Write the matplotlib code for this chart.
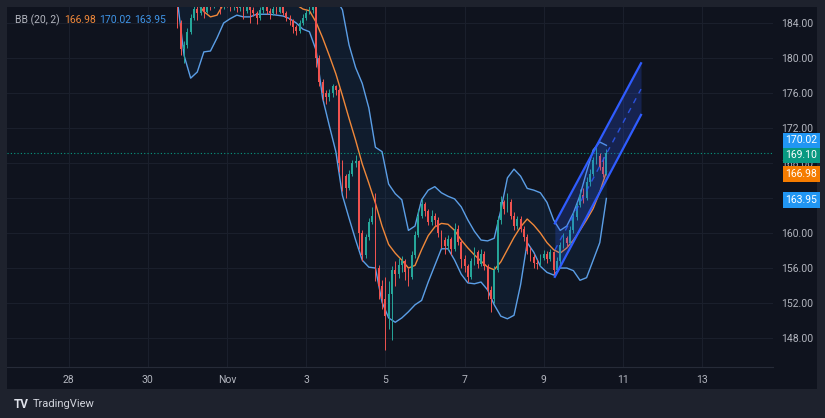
import matplotlib

matplotlib.use("Agg")
import matplotlib.dates as mdates
import matplotlib.pyplot as plt
import numpy as np
import pandas as pd
from matplotlib.patches import Rectangle
from matplotlib.transforms import blended_transform_factory

plt.rcParams["font.family"] = ["Roboto", "DejaVu Sans"]

# 2-hour candles, open of each bar is the previous close
first_open = 188.0
closes = [
    184.0, 181.0, 181.5, 183.0, 184.6, 185.6, 185.2, 185.8, 185.3, 186.2,
    185.9, 186.5, 186.3, 185.9, 186.4, 186.2, 185.8, 186.1, 185.7, 186.0,
    185.4, 185.9, 185.5, 185.2, 184.6, 185.5, 185.9, 185.4, 185.1, 185.6,
    185.3, 185.8, 185.2, 184.6, 184.3, 183.6, 183.1, 184.0, 184.6, 185.2,
    185.5, 185.8, 180.0, 177.3, 176.0, 175.5, 176.0, 176.8, 176.3, 168.0,
    166.5, 165.2, 166.8, 168.0, 168.2, 160.0, 157.5, 159.5, 161.3, 162.0,
    156.0, 154.0, 152.5, 150.5, 153.0, 155.8, 155.3, 156.3, 156.8, 155.6,
    155.0, 157.5, 159.8, 162.0, 163.3, 162.5, 161.3, 162.0, 161.5, 160.0,
    159.2, 158.5, 159.3, 158.2, 160.5, 159.0, 157.0, 156.2, 155.0, 156.8,
    157.8, 156.5, 157.6, 156.2, 153.5, 152.5, 155.8, 161.5, 163.5, 162.8,
    163.6, 162.0, 160.8, 161.6, 160.5, 159.6, 158.0, 157.3, 156.6, 156.5,
    157.2, 157.6, 157.0, 157.8, 155.8, 156.8, 158.6, 159.4, 158.9, 160.3,
    161.8, 163.2, 164.3, 164.0, 165.8, 166.8, 168.3, 168.8, 167.6, 166.8,
    169.1,
]
highs = [
    188.6, 184.3, 182.0, 183.4, 185.0, 186.0, 186.0, 186.2, 186.1, 186.6,
    186.5, 186.9, 186.8, 186.4, 186.7, 186.6, 186.3, 186.4, 186.2, 186.3,
    186.1, 186.2, 186.1, 185.8, 185.4, 185.8, 186.3, 186.1, 185.7, 185.9,
    185.9, 186.1, 185.9, 185.4, 184.9, 184.5, 183.8, 184.3, 185.0, 185.5,
    185.9, 186.1, 185.9, 180.4, 177.6, 176.4, 176.5, 177.0, 176.9, 176.6,
    168.3, 166.8, 167.2, 168.4, 168.9, 168.4, 160.4, 159.9, 161.7, 163.0,
    164.6, 156.4, 154.6, 155.0, 154.5, 156.2, 156.8, 157.2, 157.4, 157.0,
    156.0, 157.9, 160.2, 162.8, 163.9, 163.6, 162.8, 162.6, 162.3, 161.8,
    160.3, 159.6, 159.8, 159.6, 161.2, 160.9, 159.3, 157.5, 156.5, 157.2,
    158.4, 158.1, 158.2, 157.9, 156.5, 154.0, 156.2, 161.9, 164.2, 163.8,
    164.6, 163.9, 162.4, 162.0, 161.9, 160.8, 159.9, 158.4, 157.6, 157.0,
    157.6, 158.1, 157.9, 158.2, 158.0, 157.3, 159.0, 160.0, 159.7, 160.8,
    162.4, 163.6, 165.0, 165.2, 166.4, 167.3, 168.7, 169.8, 169.2, 168.7,
    169.6,
]
lows = [
    183.4, 180.3, 179.4, 181.2, 182.7, 184.3, 184.4, 184.9, 184.6, 185.1,
    185.5, 185.7, 185.9, 185.0, 185.6, 185.8, 185.4, 185.5, 185.3, 185.4,
    184.5, 185.2, 184.0, 184.8, 183.9, 184.4, 185.2, 185.0, 184.5, 184.9,
    185.0, 185.1, 184.9, 184.2, 183.8, 182.9, 182.6, 182.9, 183.8, 184.4,
    185.0, 185.2, 179.0, 176.8, 175.2, 174.8, 175.1, 175.6, 175.8, 167.0,
    164.8, 164.0, 164.9, 166.5, 167.6, 158.2, 156.8, 157.2, 159.2, 161.0,
    154.5, 152.5, 151.3, 146.6, 149.0, 147.8, 154.0, 154.9, 155.5, 154.6,
    154.0, 154.7, 157.2, 159.5, 161.7, 162.0, 160.9, 160.9, 160.8, 159.6,
    158.3, 157.6, 158.1, 157.5, 157.9, 158.6, 156.0, 155.6, 154.4, 154.7,
    156.4, 156.0, 156.2, 155.8, 152.5, 151.0, 152.0, 155.5, 161.0, 162.2,
    162.4, 161.6, 160.3, 160.5, 160.1, 159.1, 157.6, 156.8, 156.0, 155.9,
    156.2, 156.9, 156.6, 156.8, 155.2, 155.5, 156.5, 158.3, 158.4, 158.7,
    160.0, 161.5, 163.0, 163.4, 163.8, 165.4, 166.5, 167.9, 167.2, 166.4,
    166.6,
]

# Bollinger Bands (20, 2), sampled every 4 hours
bb_upper = [
    191.0, 192.0, 192.5, 192.0, 190.0, 188.6, 187.6, 187.8, 188.2, 188.6,
    188.8, 188.9, 188.8, 188.7, 188.5, 188.3, 188.1, 187.9, 187.8, 187.8,
    187.8, 189.0, 188.5, 187.5, 186.8, 185.5, 181.5, 178.9, 177.1, 174.3,
    169.8, 169.3, 165.6, 164.5, 163.8, 160.3, 160.8, 163.8, 164.9, 165.3,
    164.6, 164.2, 163.9, 163.0, 161.5, 160.2, 159.2, 159.1, 159.4, 162.6,
    166.3, 167.3, 166.5, 165.1, 164.9, 164.6, 163.5, 161.5, 160.3, 160.8,
    162.3, 164.3, 167.0, 169.5, 170.4, 170.02,
]
bb_basis = [
    188.5, 187.8, 187.0, 186.3, 185.3, 184.7, 184.9, 186.2, 186.6, 186.9,
    187.0, 187.0, 186.9, 186.8, 186.7, 186.6, 186.5, 186.3, 186.1, 185.6,
    185.4, 184.1, 182.3, 180.3, 178.2, 175.7, 173.1, 170.6, 167.9, 165.7,
    163.4, 160.8, 158.7, 157.7, 156.9, 156.0, 156.3, 158.1, 159.7, 160.7,
    161.1, 161.0, 160.3, 159.2, 158.3, 157.5, 156.8, 156.1, 155.8, 156.7,
    158.1, 159.5, 160.7, 161.6, 160.9, 160.0, 158.9, 158.1, 157.7, 158.3,
    159.2, 160.3, 161.5, 162.8, 164.7, 166.98,
]
bb_lower = [
    186.5, 180.3, 177.7, 178.4, 180.7, 180.8, 182.3, 184.0, 184.5, 184.9,
    184.7, 184.7, 185.0, 185.0, 185.0, 184.9, 184.8, 184.5, 184.0, 183.3,
    183.0, 180.9, 175.4, 172.3, 169.3, 164.3, 161.7, 159.2, 156.9, 156.1,
    156.0, 152.1, 150.3, 149.8, 150.3, 151.0, 151.8, 152.3, 154.4, 156.3,
    158.2, 158.2, 156.9, 155.3, 154.3, 154.2, 154.4, 153.5, 151.8, 150.5,
    150.2, 150.6, 154.1, 158.9, 157.8, 156.2, 155.5, 155.2, 156.0, 156.0,
    155.7, 154.6, 154.9, 156.9, 158.9, 163.95,
]

# parallel channel drawing
channel_times = ["2023-11-09 06:45", "2023-11-11 11:00"]
channel_upper = [161.1, 179.4]
channel_lower = [155.0, 173.5]

last_price = 169.10
date_ticks = ["2023-10-28", "2023-10-30", "2023-11-01", "2023-11-03", "2023-11-05",
              "2023-11-07", "2023-11-09", "2023-11-11", "2023-11-13"]
date_labels = ["28", "30", "Nov", "3", "5", "7", "9", "11", "13"]
price_ticks = [148, 152, 156, 160, 164, 168, 172, 176, 180, 184]
hidden_ticks = [164]  # sits fully under the 163.95 tag

FRAME = "#1e222d"
PANEL = "#0f131e"
GRID = "#1a1f2c"
TEXT = "#b2b5be"
UP = "#26a69a"
DOWN = "#ef5350"
BAND = "#5b9ee6"
BASIS = "#f0883a"
CHANNEL = "#2f5cff"
BLUE_TAG = "#2196f3"
GREEN_TAG = "#089981"
ORANGE_TAG = "#f57c00"

W, H = 825, 418
fig = plt.figure(figsize=(W / 100, H / 100), dpi=100)
fig.patch.set_facecolor(FRAME)
fig.add_artist(Rectangle((7 / W, 1 - 389 / H), 810 / W, 382 / H, transform=fig.transFigure,
                         facecolor=PANEL, edgecolor="none", zorder=-10))

ax = fig.add_axes([7 / W, 1 - 367 / H, 766 / W, 360 / H])
ax.set_facecolor(PANEL)
ax.set_ylim(144.69, 185.83)
ax.set_xlim(pd.Timestamp("2023-10-26 10:40"), pd.Timestamp("2023-11-14 19:00"))

times = pd.date_range("2023-10-30 18:00", periods=len(closes), freq="2h")
band_times = pd.date_range("2023-10-30 18:00", periods=len(bb_basis), freq="4h")
t = mdates.date2num(times)
bt = mdates.date2num(band_times)

# bands
ax.fill_between(bt, bb_lower, bb_upper, color="#2196f3", alpha=0.07, lw=0, zorder=1)
ax.plot(bt, bb_upper, color=BAND, lw=1.0, zorder=2)
ax.plot(bt, bb_lower, color=BAND, lw=1.0, zorder=2)
ax.plot(bt, bb_basis, color=BASIS, lw=1.0, zorder=2)

# candles
c = np.array(closes)
o = np.array([first_open] + closes[:-1])
cols = np.where(c >= o, UP, DOWN)
ax.vlines(t, lows, highs, colors=cols, lw=0.7, zorder=3)
body = np.maximum(np.abs(c - o), 0.1)
ax.bar(t, body, bottom=np.minimum(o, c), width=0.045, color=cols, lw=0, zorder=3)

# channel
ct = mdates.date2num(pd.to_datetime(channel_times))
mid = (np.array(channel_upper) + np.array(channel_lower)) / 2
ax.fill_between(ct, channel_lower, channel_upper, color=CHANNEL, alpha=0.22, lw=0, zorder=4)
ax.plot(ct, channel_upper, color=CHANNEL, lw=1.6, zorder=5)
ax.plot(ct, channel_lower, color=CHANNEL, lw=1.6, zorder=5)
ax.plot(ct, mid, color=CHANNEL, lw=1.0, ls=(0, (4, 4)), alpha=0.8, zorder=5)

ax.axhline(last_price, color=GREEN_TAG, lw=0.8, ls=(0, (1, 2)), zorder=2)

# axes styling
ax.set_xticks(pd.to_datetime(date_ticks))
ax.set_xticklabels(date_labels)
ax.yaxis.tick_right()
ax.set_yticks(price_ticks)
ax.set_yticklabels(["" if v in hidden_ticks else f"{v:.2f}" for v in price_ticks])
ax.tick_params(axis="both", length=0, colors=TEXT, labelsize=7.5)
ax.tick_params(axis="x", pad=6)
ax.tick_params(axis="y", pad=6)
ax.grid(True, color=GRID, lw=0.8)
ax.set_axisbelow(True)
for name, sp in ax.spines.items():
    sp.set_visible(name == "bottom")
ax.spines["bottom"].set_color("#262b38")

# price tags on the right scale
tr = blended_transform_factory(ax.transAxes, ax.transData)
tags = [
    (170.02, BLUE_TAG, 3.5),
    (169.10, GREEN_TAG, -1.5),
    (166.98, ORANGE_TAG, -1.2),
    (163.95, BLUE_TAG, -1.2),
]
for value, color, dy in tags:
    ax.annotate(f"{value:.2f}", xy=(1.0, value), xycoords=tr, xytext=(20.5, dy),
                textcoords="offset points", ha="center", va="center", color="white",
                fontsize=7.5, annotation_clip=False, zorder=10,
                bbox=dict(boxstyle="square,pad=0.28", fc=color, ec="none"))

# legend header
fig.text(15 / W, 1 - 20 / H, "BB (20, 2)", color=TEXT, fontsize=7.5, va="center")
fig.text(64 / W, 1 - 20 / H, "166.98", color=BASIS, fontsize=7.5, va="center")
fig.text(99 / W, 1 - 20 / H, "170.02", color="#3f95e8", fontsize=7.5, va="center")
fig.text(134 / W, 1 - 20 / H, "163.95", color="#3f95e8", fontsize=7.5, va="center")

# footer logo
fig.text(14 / W, 1 - 404 / H, "TV", color="#e0e3eb", fontsize=8.5, fontweight="bold", va="center")
fig.text(33 / W, 1 - 404 / H, "TradingView", color="#d1d4dc", fontsize=8, va="center")

fig.savefig("out.png", dpi=100, facecolor=fig.get_facecolor())
plt.close(fig)
